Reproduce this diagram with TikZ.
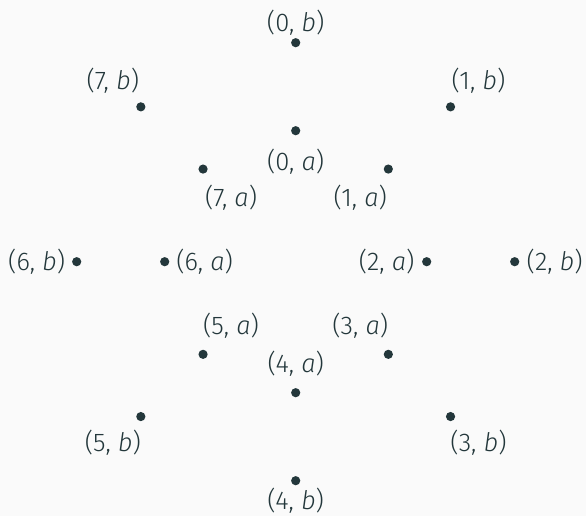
\documentclass[tikz,border=0pt]{standalone}
\usepackage{fontspec}
\setmainfont{Fira Sans Light}[ItalicFont={Fira Sans Light Italic}]
\usepackage{xcolor}
\usetikzlibrary{calc}
\definecolor{mDarkTeal}{HTML}{23373B}
\definecolor{mBackground}{HTML}{FAFAFA}

\begin{document}
\begin{tikzpicture}[
  x=0.5pt, y=0.5pt,
  font=\fontsize{12.8}{15}\selectfont,
  pt/.style  ={circle, fill=mDarkTeal, inner sep=0pt, minimum size=4.6pt},
  lbl/.style ={text=mDarkTeal, inner sep=0pt},
]

% ---------------- background -----------------------------------------------
\fill[mBackground] (-295.7,-254.3) rectangle (290.3,261.7);

% ---------------- outer ring: radius b, labels outward --------------------
\foreach \k/\dx/\dy in {0/0/20, 1/28/26, 2/40/0, 3/28/-26,
                        4/0/-20, 5/-28/-26, 6/-40/0, 7/-28/26} {
  \node[pt] (b\k) at ({90-45*\k}:219) {};
  \node[lbl] (lb\k) at ($(b\k)+(\dx,\dy)$) {(\k, \textit{b})};
}

% ---------------- inner ring: radius a, labels inward ---------------------
\foreach \k/\dx/\dy in {0/0/-31, 1/-28/-29, 2/-40/0, 3/-28/29,
                        4/0/29, 5/28/29, 6/40/0, 7/28/-29} {
  \node[pt] (a\k) at ({90-45*\k}:131) {};
  \node[lbl] (la\k) at ($(a\k)+(\dx,\dy)$) {(\k, \textit{a})};
}

\end{tikzpicture}
\end{document}
